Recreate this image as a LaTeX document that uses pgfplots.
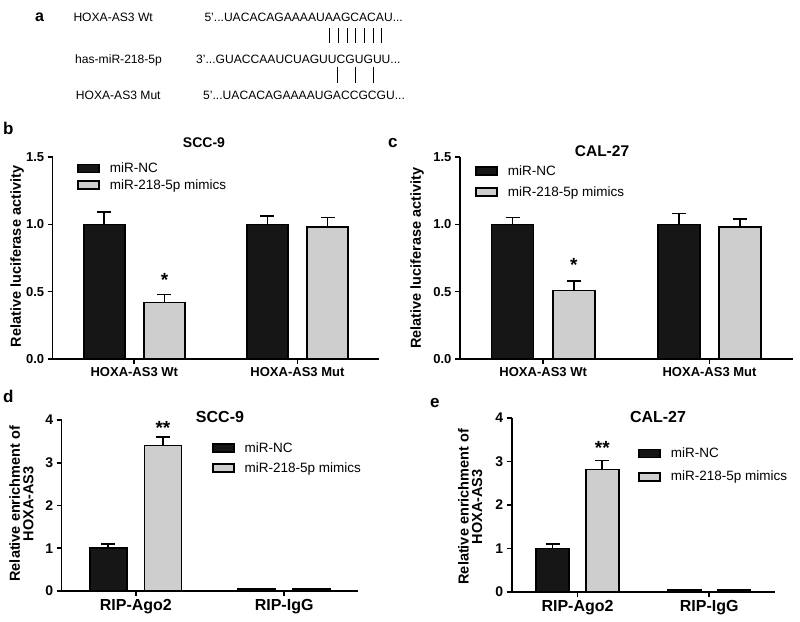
\documentclass[border=0pt]{standalone}
\usepackage{fontspec}
\setmainfont{Liberation Sans}
\usepackage{pgfplots}
\pgfplotsset{compat=1.18}
\definecolor{barblack}{RGB}{22,22,22}
\definecolor{bargrey}{RGB}{206,206,206}
\tikzset{
  seqtext/.style={anchor=base west, inner sep=0pt, font=\fontsize{12.1}{14}\selectfont},
  startext/.style={anchor=base, inner sep=0pt, font=\fontsize{19}{19}\selectfont\bfseries},
}
\pgfplotsset{
  panel/.style={
    scale only axis, axis lines=left,
    axis line style={-, line width=1.6pt, black},
    tick align=outside, major tick length=5pt,
    every tick/.style={black, line width=1.6pt},
    enlargelimits=false, xmin=-0.5, xmax=1.5, xtick={0,1}, ymin=0,
    /pgf/number format/assume math mode=true,
    ylabel style={anchor=center, align=center, font=\fontsize{14.5}{13.5}\selectfont\bfseries},
    legend style={draw=none, fill=none, anchor=north west, inner sep=0pt,
      font=\fontsize{13.5}{14}\selectfont, nodes={inner sep=0pt}, column sep=10pt},
    legend cell align=left,
    clip=false,
  },
  ncbar/.style={ybar, bar shift=0pt, fill=barblack, draw=black, line width=1.6pt,
    legend image code/.code={\draw[fill=barblack,draw=black,line width=1.6pt] (0pt,-4pt) rectangle (21pt,4pt);},
    error bars/y dir=plus, error bars/y explicit,
    error bars/error bar style={line width=1.6pt, black},
    error bars/error mark options={rotate=90, mark size=7pt, line width=1.6pt, black}},
  mmbar/.style={ybar, bar shift=0pt, fill=bargrey, draw=black, line width=1.6pt,
    legend image code/.code={\draw[fill=bargrey,draw=black,line width=1.6pt] (0pt,-4pt) rectangle (21pt,4pt);},
    error bars/y dir=plus, error bars/y explicit,
    error bars/error bar style={line width=1.6pt, black},
    error bars/error mark options={rotate=90, mark size=7pt, line width=1.6pt, black}},
}
\begin{document}
\begin{tikzpicture}[x=1pt,y=1pt]
\useasboundingbox (0,0) rectangle (800,621);

% ---------- panel a ----------
\node[anchor=base west, inner sep=0pt, font=\fontsize{16}{16}\selectfont\bfseries] at (35,599.3) {a};
\node[seqtext] at (73.3,599.3) {HOXA-AS3 Wt};
\node[seqtext] at (204.3,599.3) {5’...UACACAGAAAAUAAGCACAU...};
\node[seqtext] at (75,557.7) {has-miR-218-5p};
\node[seqtext] at (196,557.7) {3’...GUACCAAUCUAGUUCGUGUU...};
\node[seqtext] at (75.7,521) {HOXA-AS3 Mut};
\node[seqtext] at (203,521) {5’...UACACAGAAAAUGACCGCGU...};
\foreach \xx in {329.5,338.5,347,355.5,364,373,381.5}{\draw[line width=0.9pt] (\xx,593) -- (\xx,578);}
\foreach \xx in {337.5,355,373}{\draw[line width=0.9pt] (\xx,554) -- (\xx,538);}

% ---------- panel b ----------
\begin{axis}[panel, at={(52.7pt,262pt)}, anchor=south west, width=326.3pt, height=202pt,
  bar width=41pt,
  ymax=1.5, ytick={0,0.5,1,1.5},
  yticklabel style={/pgf/number format/.cd, fixed, fixed zerofill, precision=1},
  tick label style={font=\fontsize{13}{13}\selectfont\bfseries},
  xticklabels={HOXA-AS3 Wt, HOXA-AS3 Mut},
  ylabel={Relative luciferase activity},
  ylabel style={at={(axis description cs:-0.109,0.507)}},
  legend style={at={(axis description cs:0.0745,0.972)}, row sep=5.5pt}]
\addplot[ncbar] coordinates {(-0.184,1.00) +- (0,0.09) (0.816,1.00) +- (0,0.06)};
\addplot[mmbar] coordinates {(0.185,0.42) +- (0,0.06) (1.185,0.98) +- (0,0.07)};
\legend{miR-NC, miR-218-5p mimics}
\node[startext] at (axis cs:0.185,0.537) {*};
\end{axis}

% ---------- panel c ----------
\begin{axis}[panel, at={(460pt,262pt)}, anchor=south west, width=332.7pt, height=202pt,
  bar width=42pt,
  ymax=1.5, ytick={0,0.5,1,1.5},
  yticklabel style={/pgf/number format/.cd, fixed, fixed zerofill, precision=1},
  tick label style={font=\fontsize{13}{13}\selectfont\bfseries},
  xticklabels={HOXA-AS3 Wt, HOXA-AS3 Mut},
  ylabel={Relative luciferase activity},
  ylabel style={at={(axis description cs:-0.129,0.5)}},
  legend style={at={(axis description cs:0.045,0.96)}, row sep=10pt}]
\addplot[ncbar] coordinates {(-0.184,1.00) +- (0,0.05) (0.816,1.00) +- (0,0.08)};
\addplot[mmbar] coordinates {(0.184,0.51) +- (0,0.07) (1.184,0.98) +- (0,0.06)};
\legend{miR-NC, miR-218-5p mimics}
\node[startext] at (axis cs:0.184,0.649) {*};
\end{axis}

% ---------- panel d ----------
\begin{axis}[panel, at={(61.7pt,30pt)}, anchor=south west, width=296.6pt, height=171pt,
  bar width=37pt,
  ymax=4, ytick={0,1,2,3,4},
  yticklabel style={font=\fontsize{14}{14}\selectfont\bfseries},
  xticklabel style={font=\fontsize{16}{16}\selectfont\bfseries},
  xticklabels={RIP-Ago2, RIP-IgG},
  ylabel={Relative enrichment of\\HOXA-AS3},
  ylabel style={at={(axis description cs:-0.136,0.51)}},
  legend style={at={(axis description cs:0.506,0.871)}, row sep=9pt}]
\addplot[ncbar] coordinates {(-0.186,1.00) +- (0,0.10) (0.814,0.05) +- (0,0)};
\addplot[mmbar] coordinates {(0.183,3.40) +- (0,0.20) (1.183,0.05) +- (0,0)};
\legend{miR-NC, miR-218-5p mimics}
\node[startext] at (axis cs:0.183,3.66) {**};
\end{axis}

% ---------- panel e ----------
\begin{axis}[panel, at={(511.7pt,29pt)}, anchor=south west, width=263.3pt, height=174pt,
  bar width=33pt,
  ymax=4, ytick={0,1,2,3,4},
  yticklabel style={font=\fontsize{14}{14}\selectfont\bfseries},
  xticklabel style={font=\fontsize{16}{16}\selectfont\bfseries},
  xticklabels={RIP-Ago2, RIP-IgG},
  ylabel={Relative enrichment of\\HOXA-AS3},
  ylabel style={at={(axis description cs:-0.158,0.49)}},
  legend style={at={(axis description cs:0.48,0.83)}, row sep=12pt}]
\addplot[ncbar] coordinates {(-0.189,1.00) +- (0,0.10) (0.811,0.05) +- (0,0)};
\addplot[mmbar] coordinates {(0.188,2.82) +- (0,0.20) (1.188,0.05) +- (0,0)};
\legend{miR-NC, miR-218-5p mimics}
\node[startext] at (axis cs:0.188,3.16) {**};
\end{axis}

% ---------- titles and panel letters ----------
\node[anchor=base, inner sep=0pt, font=\fontsize{14}{14}\selectfont\bfseries] at (204,473) {SCC-9};
\node[anchor=base, inner sep=0pt, font=\fontsize{15.5}{16}\selectfont\bfseries] at (602,464) {CAL-27};
\node[anchor=base, inner sep=0pt, font=\fontsize{16}{16}\selectfont\bfseries] at (220,198) {SCC-9};
\node[anchor=base, inner sep=0pt, font=\fontsize{16}{16}\selectfont\bfseries] at (658,198) {CAL-27};
\node[anchor=base west, inner sep=0pt, font=\fontsize{17}{17}\selectfont\bfseries] at (3,486) {b};
\node[anchor=base west, inner sep=0pt, font=\fontsize{17}{17}\selectfont\bfseries] at (388,473) {c};
\node[anchor=base west, inner sep=0pt, font=\fontsize{17}{17}\selectfont\bfseries] at (3,218) {d};
\node[anchor=base west, inner sep=0pt, font=\fontsize{17}{17}\selectfont\bfseries] at (430,213) {e};
\end{tikzpicture}
\end{document}
